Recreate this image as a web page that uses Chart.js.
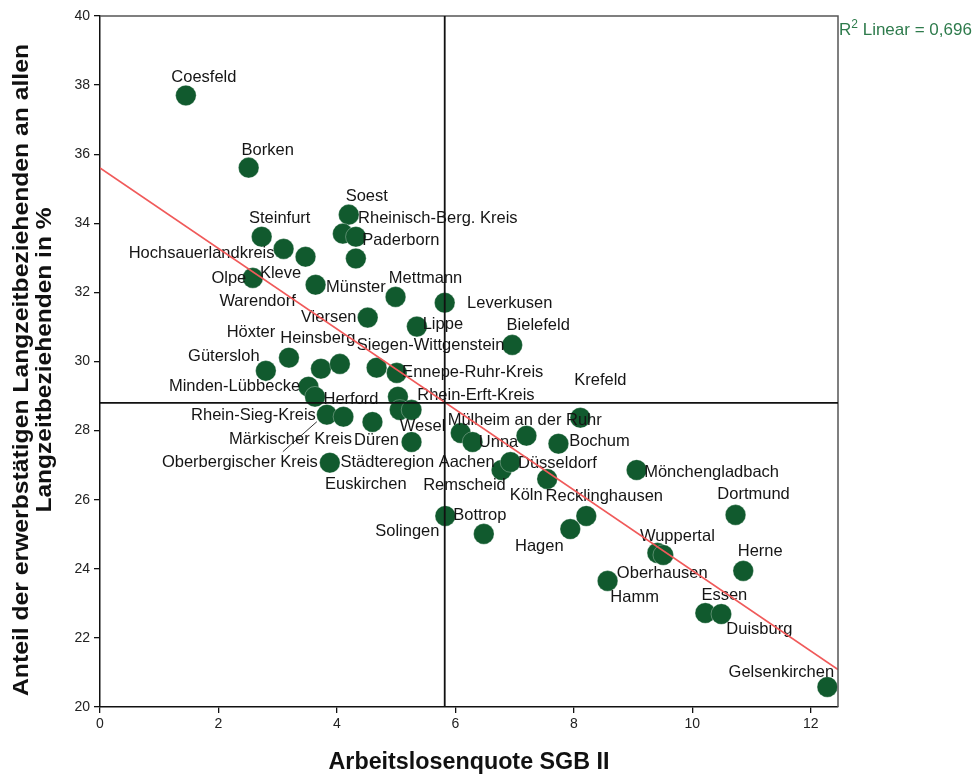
<!DOCTYPE html>
<html lang="de">
<head>
<meta charset="utf-8">
<title>Erwerbstätige Langzeitbeziehende und Arbeitslosenquote SGB II</title>
<script src="https://cdn.jsdelivr.net/npm/chart.js@4.4.1/dist/chart.umd.min.js"></script>
<style>
  html, body { margin: 0; padding: 0; background: #fff; }
  #wrap { width: 975px; height: 776px; }
</style>
</head>
<body>
<div id="wrap"><canvas id="chart" width="975" height="776"></canvas></div>
<script>
// Kreise und kreisfreie Städte in NRW (leerer Name = Punkt ohne Beschriftung)
const regions = [
  'Coesfeld', 'Borken', 'Soest', 'Steinfurt', 'Rheinisch-Berg. Kreis', 'Paderborn',
  'Hochsauerlandkreis', 'Kleve', 'Münster', 'Olpe', 'Warendorf', 'Mettmann',
  'Leverkusen', 'Viersen', 'Lippe', 'Bielefeld', 'Höxter', 'Gütersloh',
  'Heinsberg', '', 'Siegen-Wittgenstein', 'Ennepe-Ruhr-Kreis', 'Minden-Lübbecke', 'Herford',
  'Oberbergischer Kreis', 'Rhein-Sieg-Kreis', 'Märkischer Kreis', 'Rhein-Erft-Kreis', '', 'Wesel',
  'Düren', 'Euskirchen', 'Mülheim an der Ruhr', 'Unna', 'Düsseldorf', 'Bochum',
  'Krefeld', 'Städteregion Aachen', 'Remscheid', 'Köln', 'Mönchengladbach', 'Recklinghausen',
  'Hagen', 'Solingen', 'Bottrop', 'Wuppertal', 'Oberhausen', 'Dortmund',
  'Herne', 'Hamm', 'Essen', 'Duisburg', 'Gelsenkirchen'
];

// Arbeitslosenquote SGB II (%)
const quoteSGB2 = [
  1.45, 2.51, 4.20, 2.73, 4.10, 4.32,
  3.10, 3.47, 4.32, 2.58, 3.64, 4.99,
  5.82, 4.52, 5.35, 6.96, 3.19, 2.80,
  3.73, 4.05, 4.67, 5.01, 3.52, 3.63,
  3.83, 4.11, 4.60, 5.03, 5.06, 5.26,
  5.26, 3.88, 6.09, 6.29, 7.20, 7.74,
  8.11, 6.78, 6.93, 7.55, 9.06, 8.21,
  7.94, 5.83, 6.48, 9.41, 9.51, 10.73,
  10.86, 8.57, 10.22, 10.49, 12.28
];

// Anteil der erwerbstätigen Langzeitbeziehenden an allen Langzeitbeziehenden (%)
const shareEmployed = [
  37.70, 35.61, 34.25, 33.61, 33.70, 33.61,
  33.26, 33.03, 32.98, 32.42, 32.22, 31.87,
  31.70, 31.27, 31.01, 30.48, 30.11, 29.73,
  29.79, 29.93, 29.82, 29.67, 29.27, 28.98,
  28.46, 28.40, 28.25, 28.98, 28.60, 28.60,
  27.67, 27.07, 27.93, 27.67, 27.85, 27.62,
  28.37, 26.86, 27.09, 26.60, 26.86, 25.53,
  25.15, 25.53, 25.01, 24.46, 24.40, 25.56,
  23.94, 23.65, 22.72, 22.69, 20.58
];

const xTicks = [0, 2, 4, 6, 8, 10, 12];
const yTicks = [20, 22, 24, 26, 28, 30, 32, 34, 36, 38, 40];
const xRange = [0, 12.46];
const yRange = [20, 40];

// Mittelwerte (Bezugslinien) und lineare Anpassung
const meanQuote = 5.82;
const meanShare = 28.8;
const fitIntercept = 35.6;
const fitSlope = -1.165;
const fitNote = { lead: 'R', sup: '2', rest: ' Linear = 0,696' };

const xTitle = 'Arbeitslosenquote SGB II';
const yTitle = ['Anteil der erwerbstätigen Langzeitbeziehenden an allen', 'Langzeitbeziehenden in %'];

// Lage der Beschriftung relativ zum Punkt (Pixel, Textmitte)
const labelOffsets = [
  [18, -18], [19, -17], [18, -18], [18, -18], [95, -15], [45, 4],
  [-82, 5], [-25, 17], [0, 29], [-24, 1], [-58, 17], [30, -18],
  [65, 1], [-39, 0], [26, -2], [26, -19], [-38, -25], [-42, -14],
  [-3, -30], null, [54, -22], [76, 0], [-74, 0], [36, 3],
  [-87, 48], [-90, -1], [-82, 17], [78, -1], null, [11, 17],
  [-35, -2], [36, 22], [64, -13], [26, 0], [31, 28], [41, -2],
  [20, -37], [-84, -8], [-46, 23], [-21, 16], [75, 2], [18, -19],
  [-31, 17], [-38, 16], [-4, -18], [20, -16], [-1, 18], [18, -20],
  [17, -19], [27, 17], [19, -18], [38, 15], [-46, -15]
];
// Hinweislinien für abgesetzte Beschriftungen
const leaderLines = { 'Oberbergischer Kreis': [[-44, 37], [-10, 7]] };

const FONT = '"Liberation Sans", Arial, Helvetica, sans-serif';
const POINT_COLOR = '#115a2e';

const scatterPoints = regions.map((r, i) => ({ x: quoteSGB2[i], y: shareEmployed[i] }));
const fitPoints = xRange.map(x => ({ x, y: fitIntercept + fitSlope * x }));

function fittedText(ctx, text, x, y, length, angle) {
  ctx.save();
  ctx.translate(x, y);
  ctx.rotate(angle);
  const w = ctx.measureText(text).width;
  ctx.scale(length / w, 1);
  ctx.fillText(text, 0, 0);
  ctx.restore();
}

const annotations = {
  id: 'annotations',
  afterDatasetDraw(chart, args) {
    if (args.index !== 0) return;
    const ctx = chart.ctx;
    const meta = chart.getDatasetMeta(0);
    ctx.save();
    ctx.font = '16.5px ' + FONT;
    ctx.fillStyle = '#151515';
    ctx.textAlign = 'center';
    ctx.textBaseline = 'middle';
    meta.data.forEach((pt, i) => {
      const name = regions[i];
      if (!name || !labelOffsets[i]) return;
      const [dx, dy] = labelOffsets[i];
      ctx.fillText(name, pt.x + dx, pt.y + dy);
      const lead = leaderLines[name];
      if (lead) {
        ctx.beginPath();
        ctx.strokeStyle = '#333';
        ctx.lineWidth = 1;
        ctx.moveTo(pt.x + lead[0][0], pt.y + lead[0][1]);
        ctx.lineTo(pt.x + lead[1][0], pt.y + lead[1][1]);
        ctx.stroke();
      }
    });
    ctx.restore();
  },
  afterDatasetsDraw(chart) {
    const ctx = chart.ctx;
    const { left, right, top, bottom } = chart.chartArea;
    const xs = chart.scales.x, ys = chart.scales.y;
    ctx.save();
    // Rahmen oben und rechts
    ctx.strokeStyle = '#555';
    ctx.lineWidth = 1.5;
    ctx.beginPath();
    ctx.moveTo(left, top);
    ctx.lineTo(right, top);
    ctx.lineTo(right, bottom);
    ctx.stroke();
    // Bezugslinien an den Mittelwerten
    ctx.strokeStyle = '#111';
    ctx.lineWidth = 1.8;
    const mx = xs.getPixelForValue(meanQuote);
    const my = ys.getPixelForValue(meanShare);
    ctx.beginPath();
    ctx.moveTo(mx, top); ctx.lineTo(mx, bottom);
    ctx.moveTo(left, my); ctx.lineTo(right, my);
    ctx.stroke();
    // R²-Angabe
    ctx.fillStyle = '#2e7b4c';
    ctx.textAlign = 'left';
    ctx.textBaseline = 'alphabetic';
    let tx = right + 1;
    const base = 35;
    ctx.font = '17px ' + FONT;
    ctx.fillText(fitNote.lead, tx, base);
    tx += ctx.measureText(fitNote.lead).width;
    ctx.font = '12px ' + FONT;
    ctx.fillText(fitNote.sup, tx, base - 7);
    tx += ctx.measureText(fitNote.sup).width;
    ctx.font = '17px ' + FONT;
    ctx.fillText(fitNote.rest, tx, base);
    // Achsentitel
    ctx.fillStyle = '#111';
    ctx.textAlign = 'center';
    ctx.textBaseline = 'middle';
    ctx.font = 'bold 23px ' + FONT;
    fittedText(ctx, xTitle, (left + right) / 2, 763, 281, 0);
    ctx.font = 'bold 22px ' + FONT;
    fittedText(ctx, yTitle[0], 22, 370, 652, -Math.PI / 2);
    fittedText(ctx, yTitle[1], 45, 360, 305, -Math.PI / 2);
    ctx.restore();
  }
};

new Chart(document.getElementById('chart'), {
  type: 'scatter',
  data: {
    datasets: [
      {
        label: 'Kreise',
        data: scatterPoints,
        backgroundColor: POINT_COLOR,
        borderColor: 'rgba(255,255,255,0.5)',
        borderWidth: 0.6,
        pointRadius: 10.3,
        pointHoverRadius: 10.3,
        order: 2
      },
      {
        type: 'line',
        label: 'Linear',
        data: fitPoints,
        borderColor: '#f05a5a',
        borderWidth: 1.6,
        pointRadius: 0,
        fill: false,
        order: 1
      }
    ]
  },
  options: {
    responsive: false,
    animation: false,
    devicePixelRatio: 1,
    layout: { padding: { top: 16, right: 137, left: 0, bottom: 0 } },
    plugins: { legend: { display: false }, tooltip: { enabled: false } },
    scales: {
      x: {
        type: 'linear',
        min: xRange[0],
        max: xRange[1],
        afterFit(scale) { scale.height = 69; },
        afterBuildTicks(scale) { scale.ticks = xTicks.map(v => ({ value: v })); },
        grid: { drawOnChartArea: false, drawTicks: true, tickLength: 6, color: '#111', lineWidth: 1.3 },
        border: { display: true, color: '#111', width: 1.5 },
        ticks: { font: { family: FONT, size: 14 }, color: '#222', padding: 3, maxRotation: 0 }
      },
      y: {
        type: 'linear',
        min: yRange[0],
        max: yRange[1],
        afterFit(scale) { scale.width = 100; },
        afterBuildTicks(scale) { scale.ticks = yTicks.map(v => ({ value: v })); },
        grid: { drawOnChartArea: false, drawTicks: true, tickLength: 6, color: '#111', lineWidth: 1.3 },
        border: { display: true, color: '#111', width: 1.5 },
        ticks: { font: { family: FONT, size: 14 }, color: '#222', padding: 4 }
      }
    }
  },
  plugins: [annotations]
});
</script>
</body>
</html>
